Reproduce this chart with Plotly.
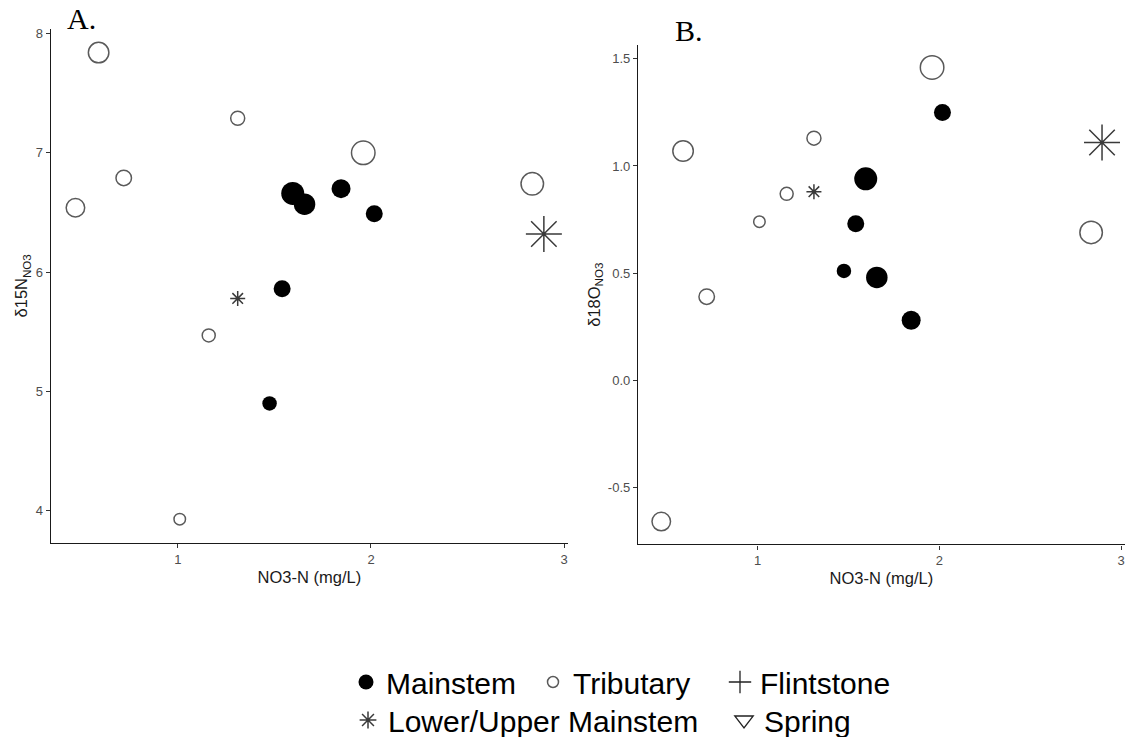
import plotly.graph_objects as go

# ---------------- data ----------------
site_group = ["Tributary", "Tributary", "Tributary", "Tributary", "Tributary", "Tributary",
              "Lower/Upper Mainstem", "Mainstem", "Mainstem", "Mainstem", "Mainstem",
              "Mainstem", "Tributary", "Mainstem", "Tributary", "Lower/Upper Mainstem"]
no3_n = [0.47, 0.59, 0.72, 1.01, 1.16, 1.31, 1.31, 1.475, 1.54, 1.595, 1.656,
         1.845, 1.96, 2.017, 2.835, 2.895]
d15n_no3 = [6.54, 7.84, 6.79, 3.93, 5.47, 7.29, 5.78, 4.90, 5.86, 6.66, 6.57,
            6.70, 7.00, 6.49, 6.74, 6.32]
d18o_no3 = [-0.66, 1.07, 0.39, 0.74, 0.87, 1.13, 0.88, 0.51, 0.73, 0.94, 0.48,
            0.28, 1.46, 1.25, 0.69, 1.11]
size_value = [20, 22, 17, 13, 14.5, 15.5, 15, 14.5, 17, 23, 21.5, 19, 25, 17, 24, 36]

legend_row1 = ["Mainstem", "Tributary", "Flintstone"]
legend_row2 = ["Lower/Upper Mainstem", "Spring"]

x_ticks = [1, 2, 3]
a_ticks = [4, 5, 6, 7, 8]
b_ticks = [-0.5, 0.0, 0.5, 1.0, 1.5]
b_tick_text = ["-0.5", "0.0", "0.5", "1.0", "1.5"]

# ---------------- styles ----------------
GREY = "#5a5a5a"
styles = {
    "Mainstem": dict(symbol="circle", color="black", line=dict(width=0, color="black")),
    "Tributary": dict(symbol="circle-open", color=GREY, line=dict(width=1.5, color=GREY)),
    "Flintstone": dict(symbol="cross-thin-open", color="#222222", line=dict(width=1.3, color="#222222")),
    "Lower/Upper Mainstem": dict(symbol="asterisk-open", color="#3a3a3a", line=dict(width=1.5, color="#3a3a3a")),
    "Spring": dict(symbol="triangle-down-open", color="#222222", line=dict(width=1.3, color="#222222")),
}


def px_size(group, v):
    if group == "Lower/Upper Mainstem":
        return v / 1.2
    if group == "Tributary":
        return v - 1.5
    return v


fig = go.Figure()

for panel, (yvals, xa, ya) in enumerate([(d15n_no3, "x", "y"), (d18o_no3, "x2", "y2")]):
    for g in ["Tributary", "Mainstem", "Lower/Upper Mainstem"]:
        idx = [i for i, s in enumerate(site_group) if s == g]
        st = styles[g]
        fig.add_trace(go.Scatter(
            x=[no3_n[i] for i in idx], y=[yvals[i] for i in idx],
            mode="markers", xaxis=xa, yaxis=ya, showlegend=False,
            marker=dict(symbol=st["symbol"], color=st["color"], line=st["line"],
                        opacity=1,
                        size=[px_size(g, size_value[i]) for i in idx]),
        ))

legend_sizes = {"Mainstem": 15, "Tributary": 11, "Flintstone": 16,
                "Lower/Upper Mainstem": 14, "Spring": 16}
for name in legend_row1 + legend_row2:
    st = styles[name]
    fig.add_trace(go.Scatter(
        x=[None], y=[None], mode="markers", name=name,
        legend="legend" if name in legend_row1 else "legend2",
        marker=dict(symbol=st["symbol"], color=st["color"], line=st["line"],
                    opacity=1, size=legend_sizes[name]),
    ))

axis_common = dict(showline=True, linecolor="#1a1a1a", linewidth=1.3, ticks="outside",
                   ticklen=4, tickwidth=1, tickcolor="#333333", showgrid=False,
                   zeroline=False, automargin=False,
                   tickfont=dict(size=13, color="#4d4d4d"))
title_font = dict(size=16.5, color="#1a1a1a")

fig.update_layout(
    width=1127, height=737,
    margin=dict(l=0, r=0, t=0, b=0, autoexpand=False),
    paper_bgcolor="white", plot_bgcolor="white",
    font=dict(family="Liberation Sans, Arial, sans-serif", color="#1a1a1a"),
    xaxis=dict(domain=[0.045, 0.504], range=[0.342, 3.02], tickvals=x_ticks,
               anchor="y", title=dict(text="NO3-N (mg/L)", font=title_font, standoff=5),
               **axis_common),
    yaxis=dict(domain=[0.2632, 0.961], range=[3.73, 8.04], tickvals=a_ticks,
               anchor="x", title=dict(text="δ15N<sub>NO3</sub>", font=title_font, standoff=3),
               **axis_common),
    xaxis2=dict(domain=[0.5661, 0.998], range=[0.342, 3.02], tickvals=x_ticks,
                anchor="y2", title=dict(text="NO3-N (mg/L)", font=title_font, standoff=5),
                **axis_common),
    yaxis2=dict(domain=[0.2612, 0.939], range=[-0.767, 1.565], tickvals=b_ticks,
                ticktext=b_tick_text, anchor="x2",
                title=dict(text="δ18O<sub>NO3</sub>", font=title_font, standoff=3),
                **axis_common),
    legend=dict(orientation="h", x=346 / 1127, xanchor="left", y=(737 - 682) / 737,
                yanchor="middle", font=dict(size=30, color="black"),
                entrywidth=142, entrywidthmode="pixels", bgcolor="rgba(0,0,0,0)",
                itemsizing="trace"),
    legend2=dict(orientation="h", x=348 / 1127, xanchor="left", y=(737 - 720) / 737,
                 yanchor="middle", font=dict(size=30, color="black"),
                 entrywidth=331, entrywidthmode="pixels", bgcolor="rgba(0,0,0,0)",
                 itemsizing="trace"),
    annotations=[
        dict(text="A.", x=65 / 1127, y=1 - 0 / 737, xref="paper", yref="paper",
             xanchor="left", yanchor="top", showarrow=False,
             font=dict(family="Liberation Serif, Times New Roman, serif", size=30, color="black")),
        dict(text="B.", x=673 / 1127, y=1 - 12 / 737, xref="paper", yref="paper",
             xanchor="left", yanchor="top", showarrow=False,
             font=dict(family="Liberation Serif, Times New Roman, serif", size=30, color="black")),
    ],
)

fig.write_html("out.html")
